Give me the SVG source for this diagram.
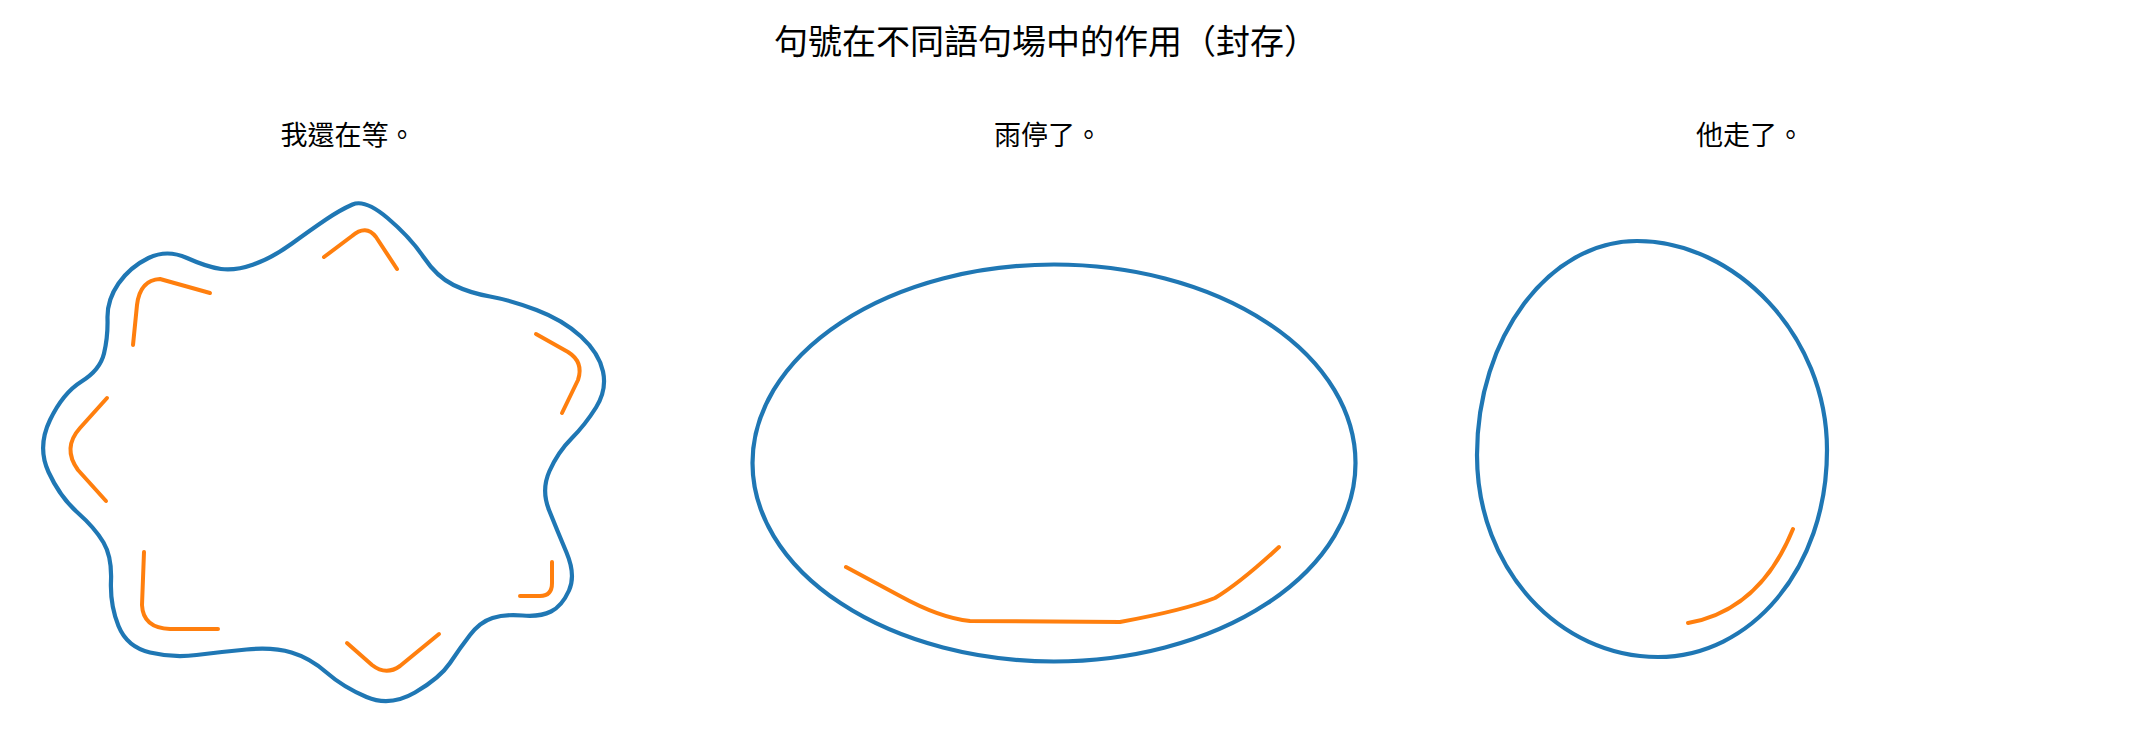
<svg xmlns="http://www.w3.org/2000/svg" width="2129" height="739" viewBox="0 0 2129 739">
<style>
.title{font-family:"Noto Sans CJK TC","Noto Sans CJK SC",sans-serif;font-size:34px;fill:#000;text-anchor:middle}
.label{font-family:"Noto Sans CJK TC","Noto Sans CJK SC",sans-serif;font-size:27px;fill:#000;text-anchor:middle}
.outline{fill:none;stroke:#1f77b4;stroke-width:4.2;stroke-linejoin:round}
.mark{fill:none;stroke:#ff7f0e;stroke-width:4;stroke-linecap:round;stroke-linejoin:round}
</style>
<rect width="2129" height="739" fill="#ffffff"/>
<text class="title" x="1046" y="54">句號在不同語句場中的作用（封存）</text>
<g id="node-wait">
<text class="label" x="348" y="145">我還在等。</text>
<path class="outline" d="M387.5,218 Q410,237 423.5,257 Q437,277 453.5,285 Q470,293 490,296.5 Q510,300 536.5,310 Q563,320 581,336.5 Q599,353 603,371.5 Q607,390 596,407.5 Q585,425 571.5,438.5 Q558,452 549.5,471 Q541,490 549,510 Q557,530 566.5,552.5 Q576,575 569,590.5 Q562,606 551,611.5 Q540,617 522.5,615.5 Q505,614 492.5,618 Q480,622 470,635 Q460,648 450,663 Q440,678 415,692.5 Q390,707 366.5,697 Q343,687 326.5,672.5 Q310,658 291.5,652.5 Q273,647 246.5,649.5 Q220,652 196.5,655 Q173,658 150,652.5 Q127,647 118.5,626 Q110,605 111,581 Q112,557 103.5,542.5 Q95,528 77.5,512.5 Q60,497 48.5,472 Q37,447 50,420 Q63,393 81.5,381.5 Q100,370 104,353.5 Q108,337 107.5,318.5 Q107,300 118.5,283.5 Q130,267 148.5,258 Q167,249 187,258 Q207,267 221,269 Q235,271 253.5,264.5 Q272,258 292,243.5 Q312,229 326,219.5 Q340,210 352.5,204.5 Q365,199 387.5,218 Z"/>
<path class="mark" d="M133,345 L137,305 Q140,280 160,279 L210,293"/>
<path class="mark" d="M324,257 L352,236 Q366,224 376,237 L397,269"/>
<path class="mark" d="M536,334 L568,352 Q584,362 578,380 L562,413"/>
<path class="mark" d="M552,562 L552,583 Q552,596 540,596 L520,596"/>
<path class="mark" d="M347,643 L372,665 Q386,676 400,666 L439,634"/>
<path class="mark" d="M144,552 L142,605 Q143,628 170,629 L218,629"/>
<path class="mark" d="M107,398 L80,428 Q62,448 78,470 L106,501"/>
</g>
<g id="node-rain">
<text class="label" x="1048" y="145">雨停了。</text>
<ellipse class="outline" cx="1054" cy="463" rx="301.5" ry="198.5"/>
<path class="mark" d="M846,567 L900,596 Q940,618 970,621 L1120,622 Q1185,610 1215,598 Q1240,583 1279,547"/>
</g>
<g id="node-gone">
<text class="label" x="1750" y="145">他走了。</text>
<path class="outline" d="M1637,241 C1735,241 1827,335 1827,450 C1827,570 1750,657 1658,657 C1560,657 1477,570 1477,455 C1477,337 1549,241 1637,241 Z"/>
<path class="mark" d="M1688,623 Q1760,610 1793,529"/>
</g>
<g id="connectors"></g>
</svg>
